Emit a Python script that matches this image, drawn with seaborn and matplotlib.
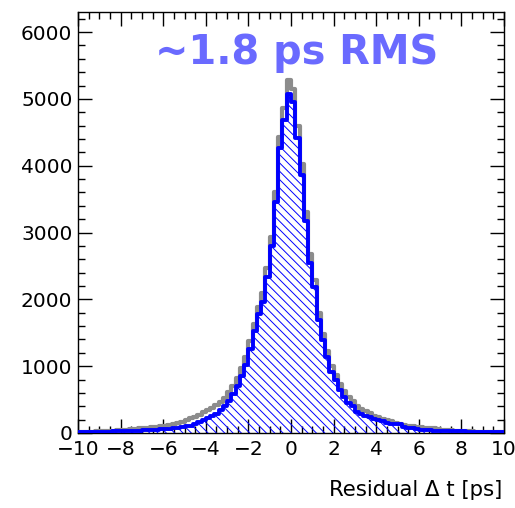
import numpy as np
import pandas as pd
import matplotlib
matplotlib.use("Agg")
import matplotlib.pyplot as plt
from matplotlib.ticker import MultipleLocator
import seaborn as sns

# ---- data (bin contents) ----
n_bins = 100
x_range = (-10, 10)

blue_counts = [
    14, 15, 17, 16, 19, 20, 21, 22, 24, 25,
    27, 29, 31, 33, 36, 38, 42, 46, 50, 55,
    60, 66, 72, 80, 90, 100, 112, 128, 160, 195,
    230, 255, 285, 340, 400, 480, 580, 700, 850, 1020,
    1250, 1520, 1780, 1960, 2340, 2800, 3460, 4260, 4680, 5080,
    4950, 4420, 3860, 3170, 2550, 2180, 1690, 1390, 1140, 920,
    790, 640, 540, 450, 400, 320, 290, 260, 235, 210,
    200, 180, 145, 140, 135, 130, 95, 80, 75, 55,
    42, 40, 38, 37, 36, 35, 33, 32, 30, 28,
    26, 22, 18, 17, 16, 15, 15, 14, 14, 14,
]

grey_counts = [
    18, 19, 21, 22, 25, 28, 30, 33, 37, 41,
    46, 52, 58, 64, 70, 76, 82, 88, 95, 100,
    110, 120, 130, 145, 165, 195, 220, 245, 275, 310,
    345, 380, 420, 470, 530, 610, 710, 830, 970, 1140,
    1370, 1630, 1890, 2090, 2470, 2940, 3600, 4430, 4870, 5280,
    5150, 4600, 4020, 3300, 2680, 2290, 1790, 1480, 1230, 1000,
    870, 730, 625, 535, 480, 400, 365, 330, 300, 260,
    235, 205, 190, 175, 155, 140, 125, 110, 100, 95,
    85, 80, 75, 70, 60, 50, 44, 40, 36, 33,
    30, 27, 24, 22, 21, 20, 19, 18, 18, 17,
]

x_ticks = [-10, -8, -6, -4, -2, 0, 2, 4, 6, 8, 10]
y_ticks = [0, 1000, 2000, 3000, 4000, 5000, 6000]
annotation = "~1.8 ps RMS"
x_label = "Residual \u0394 t [ps]"

edges = np.linspace(x_range[0], x_range[1], n_bins + 1)
centers = (edges[:-1] + edges[1:]) / 2
df = pd.DataFrame({"x": centers, "blue": blue_counts, "grey": grey_counts})

# ---- style ----
sns.set_style("ticks")
plt.rcParams["font.family"] = ["DejaVu Sans"]
plt.rcParams["hatch.linewidth"] = 0.7
plt.rcParams["hatch.color"] = "blue"

W, H = 515, 508
fig = plt.figure(figsize=(W / 100, H / 100), dpi=100)
ax = fig.add_axes([78 / W, 1 - 433 / H, (504 - 78) / W, (433 - 12) / H])

# grey histogram (behind)
sns.histplot(data=df, x="x", weights="grey", bins=n_bins, binrange=x_range,
             element="step", fill=False, color="#8c8c8c", linewidth=3.0,
             ax=ax, zorder=2)
# blue hatched fill
sns.histplot(data=df, x="x", weights="blue", bins=n_bins, binrange=x_range,
             element="step", fill=True, color="blue", facecolor="none",
             edgecolor="blue", linewidth=0, hatch="\\\\\\\\", ax=ax, zorder=3)
# blue outline
sns.histplot(data=df, x="x", weights="blue", bins=n_bins, binrange=x_range,
             element="step", fill=False, color="blue", linewidth=2.8,
             ax=ax, zorder=4)

ax.set_xlim(-10, 10)
ax.set_ylim(0, 6300)
ax.set_xticks(x_ticks)
ax.set_yticks(y_ticks)
ax.xaxis.set_minor_locator(MultipleLocator(0.5))
ax.yaxis.set_minor_locator(MultipleLocator(200))
ax.tick_params(which="both", direction="in", top=True, right=True,
               width=1, color="black", labelsize=14.5, labelcolor="black")
ax.tick_params(which="major", length=10)
ax.tick_params(which="minor", length=5)
ax.tick_params(axis="x", pad=5)
ax.tick_params(axis="y", pad=4)
ax.set_xlabel("")
ax.set_ylabel("")
for s in ax.spines.values():
    s.set_linewidth(1.0)
    s.set_color("black")
    s.set_visible(True)

fig.text(155 / W, 1 - 64 / H, annotation, color="#6a6aff", fontsize=28.7,
         fontweight="bold", ha="left", va="baseline")
fig.text(502 / W, 1 - 496 / H, x_label, color="black", fontsize=15.3,
         ha="right", va="baseline")

fig.savefig("out.png", dpi=100)
